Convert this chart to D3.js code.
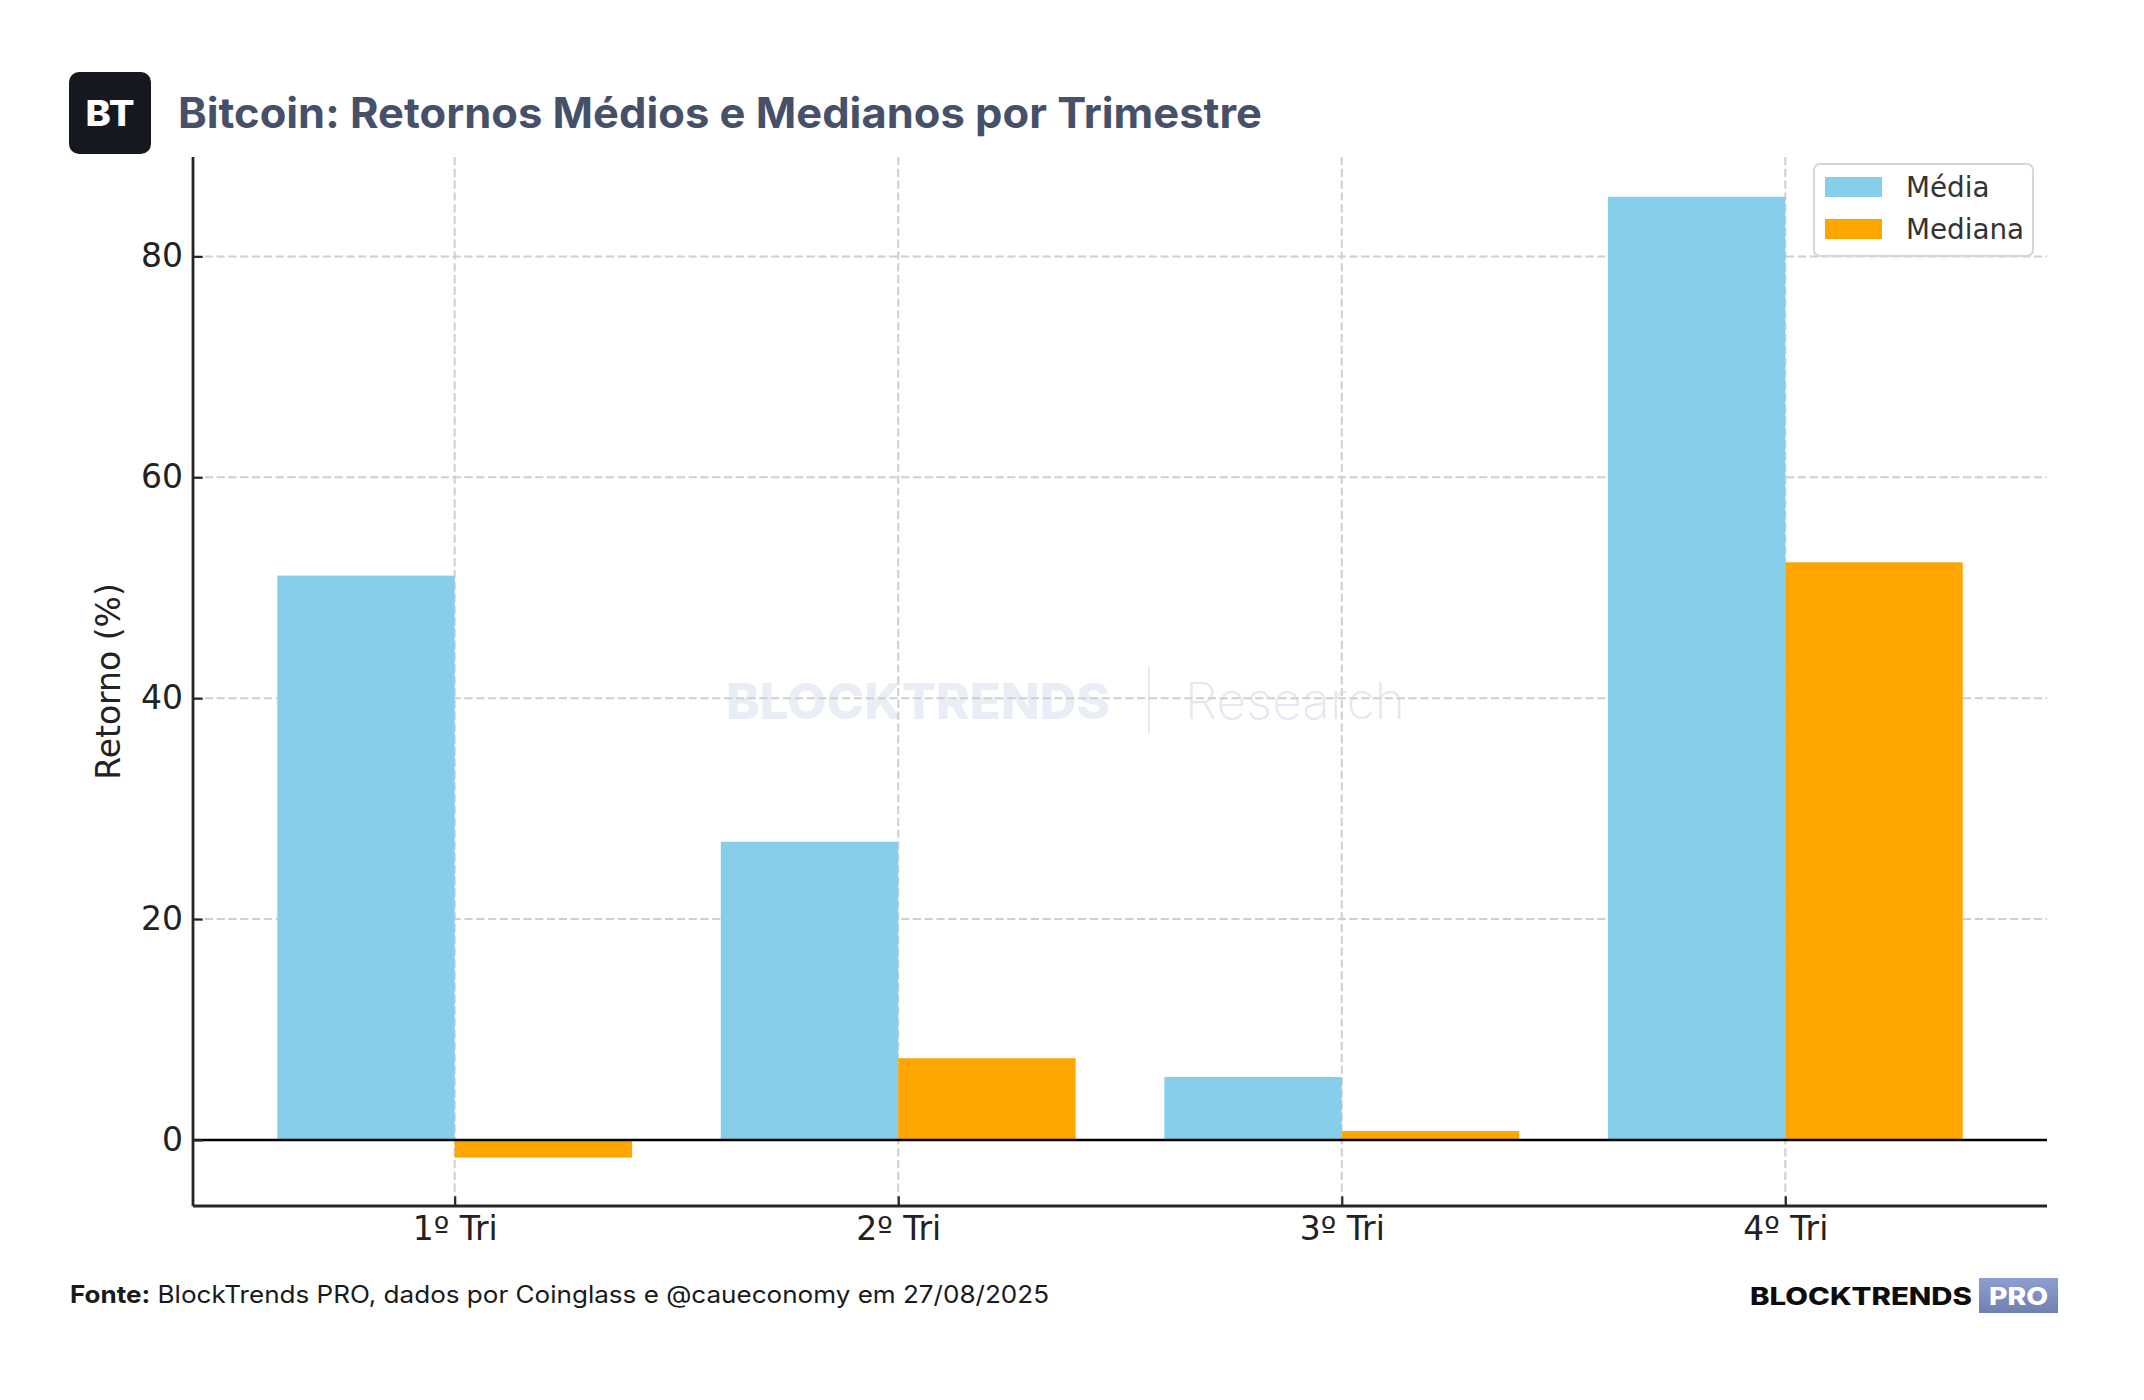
<!DOCTYPE html>
<html>
<head>
<meta charset="utf-8">
<script src="https://cdn.jsdelivr.net/npm/d3@7"></script>
<style>
  body { margin: 0; background: #fff; }
  svg { display: block; }
</style>
</head>
<body>
<div id="chart"></div>
<script>
// Data
var categories = ["1º Tri", "2º Tri", "3º Tri", "4º Tri"];
var mediaValues = [51.1, 27.0, 5.7, 85.4];
var medianaValues = [-1.6, 7.4, 0.8, 52.3];
var seriesNames = ["Média", "Mediana"];
var yTicks = [0, 20, 40, 60, 80];

var svgWidth = 2144;
var svgHeight = 1400;

var plot = { left: 193, right: 2047, top: 157, bottom: 1206 };
var barWidth = 0.4;
var colors = ["#87CEEB", "#FFA500"];

var svg = d3.select("#chart")
    .append("svg")
    .attr("width", svgWidth)
    .attr("height", svgHeight);

// scales (matplotlib-like 5% margins)
var x = d3.scaleLinear()
    .domain([-0.59, 3.59])
    .range([plot.left, plot.right]);

var y = d3.scaleLinear()
    .domain([-5.98, 89.0])
    .range([plot.bottom, plot.top]);

// watermark behind everything
var wm = svg.append("g");
wm.append("text")
    .attr("x", 726).attr("y", 719)
    .attr("font-family", "Inter, 'Open Sans', sans-serif")
    .attr("font-weight", 800)
    .attr("font-size", 50)
    .attr("fill", "#e9eef6")
    .attr("textLength", 384)
    .attr("lengthAdjust", "spacingAndGlyphs")
    .text("BLOCKTRENDS");
wm.append("line")
    .attr("x1", 1149).attr("x2", 1149)
    .attr("y1", 667).attr("y2", 733)
    .attr("stroke", "#e3e8f0")
    .attr("stroke-width", 2);
wm.append("text")
    .attr("x", 1185).attr("y", 719)
    .attr("font-family", "Inter, 'Open Sans', sans-serif")
    .attr("font-weight", 200)
    .attr("font-size", 50)
    .attr("fill", "#e3e8f0")
    .attr("textLength", 220)
    .attr("lengthAdjust", "spacingAndGlyphs")
    .text("Research");

// grid lines
var grid = svg.append("g");
grid.selectAll(".hgrid")
    .data(yTicks)
    .enter()
    .append("line")
    .attr("x1", plot.left).attr("x2", plot.right)
    .attr("y1", d => y(d)).attr("y2", d => y(d))
    .attr("stroke", "#cfcfcf")
    .attr("stroke-width", 2)
    .attr("stroke-dasharray", "8.2,3.6");

grid.selectAll(".vgrid")
    .data(categories)
    .enter()
    .append("line")
    .attr("x1", (d, i) => x(i)).attr("x2", (d, i) => x(i))
    .attr("y1", plot.top).attr("y2", plot.bottom)
    .attr("stroke", "#cfcfcf")
    .attr("stroke-width", 2)
    .attr("stroke-dasharray", "8.2,3.6");

// bars
var series = [mediaValues, medianaValues];
series.forEach(function (values, s) {
    var offset = s === 0 ? -barWidth : 0;
    svg.append("g").selectAll("rect")
        .data(values)
        .enter()
        .append("rect")
        .attr("x", (d, i) => x(i + offset))
        .attr("width", x(barWidth) - x(0))
        .attr("y", d => y(Math.max(d, 0)))
        .attr("height", d => Math.abs(y(d) - y(0)))
        .attr("fill", colors[s]);
});

// zero line
svg.append("line")
    .attr("x1", plot.left).attr("x2", plot.right)
    .attr("y1", y(0)).attr("y2", y(0))
    .attr("stroke", "#000")
    .attr("stroke-width", 2.6);

// axes
var xAxis = d3.axisBottom(x)
    .tickValues([0, 1, 2, 3])
    .tickFormat(i => categories[i])
    .tickSizeInner(-9.7)
    .tickSizeOuter(0)
    .tickPadding(10.5);

var yAxis = d3.axisLeft(y)
    .tickValues(yTicks)
    .tickSizeInner(-9.7)
    .tickSizeOuter(0)
    .tickPadding(10);

var gx = svg.append("g")
    .attr("transform", `translate(0, ${plot.bottom})`)
    .call(xAxis);
gx.select(".domain").attr("d", `M${plot.left},0H${plot.right}`);

var gy = svg.append("g")
    .attr("transform", `translate(${plot.left}, 0)`)
    .call(yAxis);
gy.select(".domain").attr("d", `M0,${plot.top}V${plot.bottom}`);

[gx, gy].forEach(function (g) {
    g.select(".domain").attr("stroke", "#262626").attr("stroke-width", 2.8);
    g.selectAll(".tick line").attr("stroke", "#262626").attr("stroke-width", 2.2);
    g.selectAll(".tick text")
        .attr("font-family", "'DejaVu Sans', sans-serif")
        .attr("font-size", 33)
        .attr("fill", "#222");
});

// y label
svg.append("text")
    .attr("transform", `translate(120, ${(plot.top + plot.bottom) / 2}) rotate(-90)`)
    .attr("text-anchor", "middle")
    .attr("font-family", "'DejaVu Sans', sans-serif")
    .attr("font-size", 33)
    .attr("fill", "#222")
    .text("Retorno (%)");

// legend
var legend = svg.append("g");
legend.append("rect")
    .attr("x", 1814).attr("y", 164)
    .attr("width", 219).attr("height", 92)
    .attr("rx", 6)
    .attr("fill", "#fff").attr("fill-opacity", 0.8)
    .attr("stroke", "#d6d6d6").attr("stroke-width", 2);
seriesNames.forEach(function (name, i) {
    legend.append("rect")
        .attr("x", 1825).attr("y", 177 + i * 42)
        .attr("width", 57).attr("height", 20)
        .attr("fill", colors[i]);
    legend.append("text")
        .attr("x", 1906).attr("y", 187 + i * 42)
        .attr("dy", "0.36em")
        .attr("font-family", "'DejaVu Sans', sans-serif")
        .attr("font-size", 27.8)
        .attr("fill", "#333")
        .text(name);
});

// header: logo badge and title
svg.append("rect")
    .attr("x", 69).attr("y", 72)
    .attr("width", 82).attr("height", 82)
    .attr("rx", 10)
    .attr("fill", "#16181f");
svg.append("text")
    .attr("x", 110).attr("y", 126)
    .attr("text-anchor", "middle")
    .attr("font-family", "Inter, sans-serif")
    .attr("font-weight", 800)
    .attr("font-size", 36)
    .attr("fill", "#fff")
    .attr("textLength", 49)
    .attr("lengthAdjust", "spacingAndGlyphs")
    .text("BT");

svg.append("text")
    .attr("x", 178).attr("y", 128)
    .attr("font-family", "Inter, sans-serif")
    .attr("font-weight", 700)
    .attr("font-size", 42)
    .attr("fill", "#475069")
    .attr("textLength", 1084)
    .attr("lengthAdjust", "spacingAndGlyphs")
    .text("Bitcoin: Retornos Médios e Medianos por Trimestre");

// footer
var foot = svg.append("text")
    .attr("x", 70).attr("y", 1303)
    .attr("font-family", "Inter, sans-serif")
    .attr("font-size", 24)
    .attr("fill", "#1a1a1a")
    .attr("textLength", 979)
    .attr("lengthAdjust", "spacingAndGlyphs");
foot.append("tspan").attr("font-weight", 700).text("Fonte:");
foot.append("tspan").attr("font-weight", 400).text(" BlockTrends PRO, dados por Coinglass e @caueconomy em 27/08/2025");

svg.append("text")
    .attr("x", 1750).attr("y", 1305)
    .attr("font-family", "Inter, sans-serif")
    .attr("font-weight", 800)
    .attr("font-size", 24)
    .attr("fill", "#0d0d0d")
    .attr("textLength", 222)
    .attr("lengthAdjust", "spacingAndGlyphs")
    .text("BLOCKTRENDS");

var grad = svg.append("defs").append("linearGradient")
    .attr("id", "proGrad")
    .attr("x1", 0).attr("y1", 0).attr("x2", 0).attr("y2", 1);
grad.append("stop").attr("offset", "0%").attr("stop-color", "#8d9ed0");
grad.append("stop").attr("offset", "100%").attr("stop-color", "#7080b0");

svg.append("rect")
    .attr("x", 1979).attr("y", 1278)
    .attr("width", 79).attr("height", 35)
    .attr("fill", "url(#proGrad)");
svg.append("text")
    .attr("x", 1989).attr("y", 1305)
    .attr("font-family", "Inter, sans-serif")
    .attr("font-weight", 800)
    .attr("font-size", 24)
    .attr("fill", "#fff")
    .attr("textLength", 59)
    .attr("lengthAdjust", "spacingAndGlyphs")
    .text("PRO");
</script>
</body>
</html>
